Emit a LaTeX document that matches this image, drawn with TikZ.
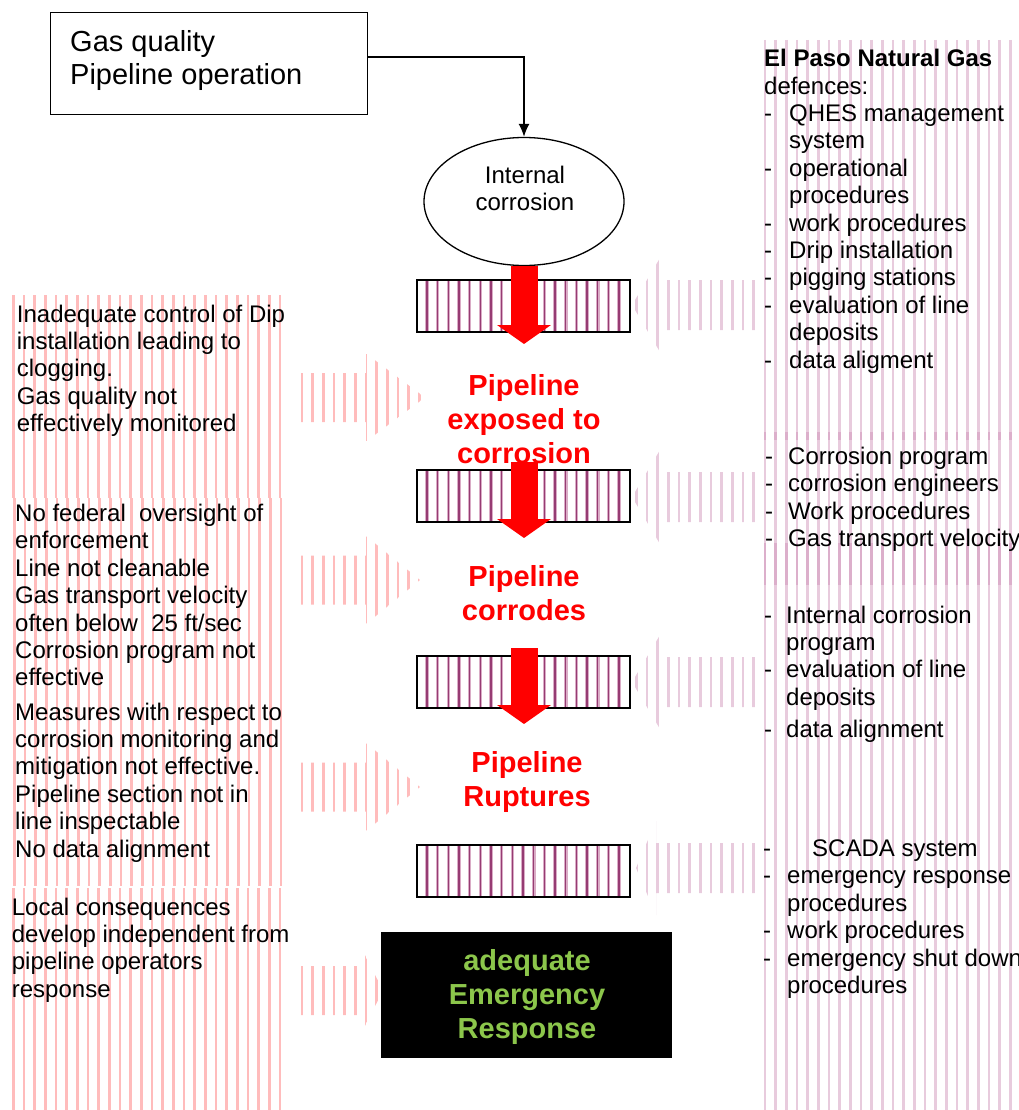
\documentclass[tikz,border=0pt]{standalone}
\usepackage{fontspec}
\setmainfont{Liberation Sans}
\usetikzlibrary{arrows.meta,shapes.geometric}

\definecolor{pinkst}{RGB}{255,188,188}
\definecolor{mauvest}{RGB}{205,140,180}
\definecolor{barst}{RGB}{150,60,115}
\definecolor{barhalo}{RGB}{218,172,198}
\definecolor{ergreen}{RGB}{140,198,75}

% vertical stripes: style, first x, step, last index, top y, bottom y
\newcommand\vstripes[6]{%
  \foreach \i in {0,...,#4}{\draw[#1] ({#2+#3*\i},#5) -- ({#2+#3*\i},#6);}}

% striped arrow pointing right: centre y, head base x, head half height, tip x
\newcommand\stripedarrowL[4]{%
  \begin{scope}
    \clip (293.5,#1-24.5) -- (#2,#1-24.5) -- (#2,#1-#3) -- (#4,#1)
          -- (#2,#1+#3) -- (#2,#1+24.5) -- (293.5,#1+24.5) -- cycle;
    \vstripes{lst}{291.3}{10.67}{13}{#1-60}{#1+60}
  \end{scope}}

% striped arrow pointing left: centre y, head base x, head half height, tip x
\newcommand\stripedarrowR[4]{%
  \begin{scope}
    \clip (764,#1-25) -- (#2,#1-25) -- (#2,#1-#3) -- (#4,#1)
          -- (#2,#1+#3) -- (#2,#1+25) -- (764,#1+25) -- cycle;
    \vstripes{rst}{636.3}{10.67}{11}{#1-60}{#1+60}
  \end{scope}}

\newcommand\dashitem[1]{\makebox[#1][l]{-}}
\newcommand\hangind[1]{\hspace*{#1}}

\begin{document}
\begin{tikzpicture}[x=1pt,y=-1pt,
  lst/.style={line width=2.6pt, draw=pinkst},
  rst/.style={line width=2.6pt, draw=mauvest, opacity=0.45},
  bhalo/.style={line width=3.6pt, draw=barhalo},
  bcore/.style={line width=1.5pt, draw=barst},
  % multi-line nodes sit on the baseline of their last line
  body/.style={inner sep=0pt, anchor=base west, align=left,
    font=\fontsize{24}{27.4}\selectfont},
  event/.style={inner sep=0pt, anchor=base, align=center, text=red,
    font=\bfseries\fontsize{29}{34}\selectfont},
  barrier/.style={draw=black, line width=1.3pt, minimum width=213pt,
    minimum height=52pt, inner sep=0pt},
  blockarrow/.style={line width=27pt, red, -{Triangle[length=19pt,width=53pt]}},
]
\useasboundingbox (0,0) rectangle (1018,1110);

% left column of causes
\vstripes{lst}{13.3}{10.67}{25}{295}{498}
\vstripes{lst}{14.3}{10.67}{25}{498}{886}
\vstripes{lst}{13.3}{10.67}{25}{888}{1110}

% right column of defences
\vstripes{rst}{765}{10.67}{23}{40}{440}
\vstripes{rst}{765}{10.67}{23}{432}{585}
\vstripes{rst}{765}{10.67}{23}{543}{1110}

% striped arrows from the causes
\stripedarrowL{397.5}{366}{44}{425}
\stripedarrowL{580}{366}{44}{420}
\stripedarrowL{787}{366}{44}{420}
\stripedarrowL{990.5}{358}{49}{383}

% striped arrows from the defences
\stripedarrowR{305}{660}{47}{632}
\stripedarrowR{497}{660}{47}{632}
\stripedarrowR{682}{660}{47}{632}
\stripedarrowR{868}{656}{47}{636}

% barriers
\foreach \by/\nm in {306/b1,496/b2,682/b3,871/b4}{
  \vstripes{bhalo}{427}{10.67}{18}{\by-25}{\by+25}
  \vstripes{bcore}{427}{10.67}{18}{\by-25}{\by+25}
  \node[barrier] (\nm) at (523.5,\by) {};
}

% source box and top event
\node[draw, line width=1pt, minimum width=317pt, minimum height=102pt,
  anchor=north west, inner sep=0pt] (gq) at (50,12) {};
\node[body, font=\fontsize{29}{33}\selectfont] (gqt) at (70,85)
  {Gas quality\\Pipeline operation};
\node[draw, ellipse, line width=1.3pt, minimum width=200pt,
  minimum height=128pt, inner sep=0pt] (ic) at (524,201.5) {};
\node[inner sep=0pt, anchor=base, align=center,
  font=\fontsize{24}{27}\selectfont] (ict) at (525,211) {Internal\\corrosion};
\coordinate (c0) at (367,57);
\draw[line width=1.5pt, -{Latex[length=13pt,width=11pt]}] (c0) -| (ic.north);

% events
\node[event] (e1) at (524,463) {Pipeline\\exposed to\\corrosion};
\node[event] (e2) at (524,620) {Pipeline\\corrodes};
\node[event] (e3) at (527,806) {Pipeline\\Ruptures};
\node[fill=black, minimum width=291pt, minimum height=126pt, inner sep=0pt]
  (er) at (526.5,995) {};
\node[event, text=ergreen] (ert) at (527,1038) {adequate\\Emergency\\Response};

% red escalation arrows
\coordinate (ra1) at (524,344);
\coordinate (ra2s) at (524,462);
\coordinate (ra2) at (524,538);
\coordinate (ra3s) at (524,648);
\coordinate (ra3) at (524,724);
\draw[blockarrow] (ic.south) -- (ra1);
\draw[blockarrow] (ra2s) -- (ra2);
\draw[blockarrow] (ra3s) -- (ra3);

% causes
\node[body] (l1) at (16.7,431.6) {Inadequate control of Dip\\installation leading to\\clogging.\\Gas quality not\\effectively monitored};
\node[body] (l2) at (15,685.9) {No federal~ oversight of\\enforcement\\Line not cleanable\\Gas transport velocity\\often below~ 25 ft/sec\\Corrosion program not\\effective};
\node[body] (l3) at (15,857) {Measures with respect to\\corrosion monitoring and\\mitigation not effective.\\Pipeline section not in\\line inspectable\\No data alignment};
\node[body] (l4) at (11.7,997.2) {Local consequences\\develop independent from\\pipeline operators\\response};

% defences
\node[body] (r1) at (764,368.1) {\textbf{El Paso Natural Gas}\\defences:\\
  \dashitem{25pt}QHES management\\\hangind{25pt}system\\
  \dashitem{25pt}operational\\\hangind{25pt}procedures\\
  \dashitem{25pt}work procedures\\
  \dashitem{25pt}Drip installation\\
  \dashitem{25pt}pigging stations\\
  \dashitem{25pt}evaluation of line\\\hangind{25pt}deposits\\
  \dashitem{25pt}data aligment};
\node[body] (r2) at (765,546.5) {\dashitem{23pt}Corrosion program\\
  \dashitem{23pt}corrosion engineers\\
  \dashitem{23pt}Work procedures\\
  \dashitem{23pt}Gas transport velocity};
\node[body] (r3) at (764,737.1) {\dashitem{22pt}Internal corrosion\\\hangind{22pt}program\\
  \dashitem{22pt}evaluation of line\\\hangind{22pt}deposits\\[4.5pt]
  \dashitem{22pt}data alignment};
\node[body] (r4) at (763,993.5) {\dashitem{49pt}SCADA system\\
  \dashitem{24pt}emergency response\\\hangind{24pt}procedures\\
  \dashitem{24pt}work procedures\\
  \dashitem{24pt}emergency shut down\\\hangind{24pt}procedures};
\end{tikzpicture}
\end{document}
